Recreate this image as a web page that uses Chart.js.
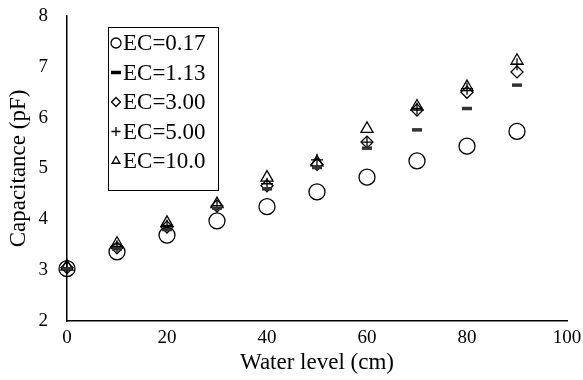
<!DOCTYPE html>
<html>
<head>
<meta charset="utf-8">
<script src="https://cdn.jsdelivr.net/npm/chart.js@4.4.1/dist/chart.umd.min.js"></script>
<style>
  html, body { margin: 0; padding: 0; background: #fff; }
  #wrap { width: 583px; height: 380px; }
</style>
</head>
<body>
<div id="wrap"><canvas id="capChart" width="583" height="380"></canvas></div>
<script>
// DATA
const waterLevel = [0, 10, 20, 30, 40, 50, 60, 70, 80, 90];
const ec017 = [3.03, 3.36, 3.69, 3.97, 4.25, 4.54, 4.83, 5.15, 5.44, 5.73];
const ec113 = [3.03, 3.42, 3.80, 4.22, 4.60, 5.02, 5.40, 5.76, 6.18, 6.64];
const ec300 = [3.05, 3.44, 3.85, 4.26, 4.66, 5.08, 5.52, 6.15, 6.50, 6.90];
const ec500 = [3.05, 3.47, 3.88, 4.27, 4.70, 5.17, 5.52, 6.18, 6.57, 7.05];
const ec100 = [3.07, 3.52, 3.93, 4.30, 4.82, 5.12, 5.78, 6.22, 6.60, 7.12];
const seriesLabels = ["EC=0.17", "EC=1.13", "EC=3.00", "EC=5.00", "EC=10.0"];

const serif = "'Liberation Serif', 'Times New Roman', serif";

function toPoints(vals) {
  return vals.map((v, i) => ({ x: waterLevel[i], y: v }));
}

// marker styles (Excel-like hollow markers)
const markers = [
  { pointStyle: "circle", radius: 8, borderWidth: 1.3 },
  { pointStyle: "line", radius: 5, borderWidth: 3.5 },
  { pointStyle: "rectRot", radius: 6, borderWidth: 1.3 },
  { pointStyle: "cross", radius: 6, borderWidth: 1.3 },
  { pointStyle: "triangle", radius: 7, borderWidth: 1.3 }
];

const allSeries = [ec017, ec113, ec300, ec500, ec100];

const datasets = allSeries.map((vals, i) => ({
  label: seriesLabels[i],
  data: toPoints(vals),
  showLine: false,
  clip: false,
  pointStyle: markers[i].pointStyle,
  pointRadius: markers[i].radius,
  pointBorderWidth: markers[i].borderWidth,
  pointBorderColor: i === 1 ? "#333" : "#000",
  pointBackgroundColor: "rgba(255,255,255,0)",
  borderColor: "#000"
}));

// LEGEND BOX drawn inside the plot
const boxLegend = {
  id: "boxLegend",
  afterDraw(chart) {
    const ctx = chart.ctx;
    const left = 108, top = 27, w = 110, h = 163;
    ctx.save();
    ctx.strokeStyle = "#000";
    ctx.lineWidth = 1;
    ctx.strokeRect(left + 0.5, top + 0.5, w, h);
    ctx.font = "23px " + serif;
    ctx.textBaseline = "middle";
    seriesLabels.forEach((lab, i) => {
      const y = top + 16 + i * 29.5;
      const m = markers[i];
      ctx.strokeStyle = "#000";
      ctx.fillStyle = "rgba(255,255,255,0)";
      ctx.lineWidth = m.borderWidth;
      Chart.helpers.drawPoint(ctx, {
        pointStyle: m.pointStyle,
        radius: m.pointStyle === "circle" ? 5 : (m.pointStyle === "line" ? 5 : 4.5),
        rotation: 0,
        borderWidth: m.borderWidth
      }, left + 8, y);
      ctx.fillStyle = "#000";
      ctx.fillText(lab, left + 15, y + 1);
    });
    ctx.restore();
  }
};

new Chart(document.getElementById("capChart"), {
  type: "scatter",
  data: { datasets: datasets },
  plugins: [boxLegend],
  options: {
    responsive: false,
    animation: false,
    events: [],
    layout: { padding: { top: 16, right: 16, left: 2, bottom: 3 } },
    plugins: {
      legend: { display: false },
      tooltip: { enabled: false }
    },
    scales: {
      x: {
        type: "linear",
        min: 0,
        max: 100,
        afterFit(scale) {
          scale.height = 56;
          scale.paddingLeft = 0;
          scale.paddingRight = 0;
        },
        ticks: { stepSize: 20, color: "#000", font: { family: serif, size: 19 }, padding: 6 },
        grid: { display: false, drawTicks: false },
        border: { display: true, color: "#000", width: 1.5 },
        title: { display: true, text: "Water level (cm)", color: "#000", font: { family: serif, size: 23 }, padding: { top: 2, bottom: 0 } }
      },
      y: {
        min: 2,
        max: 8,
        afterFit(scale) {
          scale.width = 65;
          scale.paddingTop = 0;
          scale.paddingBottom = 0;
        },
        ticks: { stepSize: 1, color: "#000", font: { family: serif, size: 19 }, padding: 19 },
        grid: { display: false, drawTicks: false },
        border: { display: true, color: "#000", width: 1.5 },
        title: { display: true, text: "Capacitance (pF)", color: "#000", font: { family: serif, size: 23 }, padding: { top: 3, bottom: 6 } }
      }
    }
  }
});
</script>
</body>
</html>
